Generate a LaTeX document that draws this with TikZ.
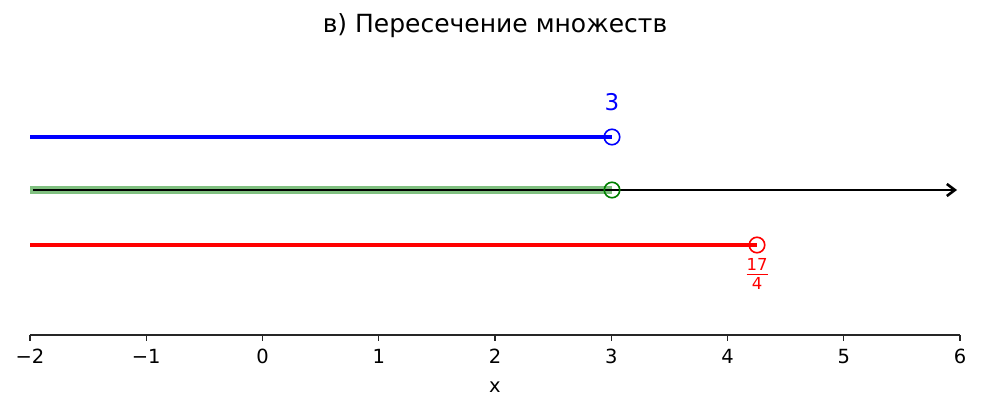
\documentclass[tikz,border=0pt]{standalone}
\usepackage{fontspec}
\setmainfont{DejaVu Sans}
\usetikzlibrary{arrows.meta}
\definecolor{mgreen}{RGB}{0,128,0}
\definecolor{bandgreen}{RGB}{128,192,128}
\tikzset{
  ticklab/.style={font=\fontsize{19.5}{19.5}\selectfont, inner sep=0pt, anchor=north},
  openpt/.style={circle, draw, line width=1.6pt, minimum size=15.5pt, inner sep=0pt},
  setline/.style={line width=3.5pt},
}
\begin{document}
\begin{tikzpicture}[x=1pt,y=-1pt]
\path[use as bounding box] (0,0) rectangle (982,413);
% title
\node[font=\fontsize{25}{25}\selectfont, inner sep=0pt] (title) at (495,26) {в) Пересечение множеств};
% coordinates
\coordinate (bstart) at (30,137);
\coordinate (gstart) at (30,190);
\coordinate (kstart) at (33,190);
\coordinate (kend) at (957,190);
\coordinate (rstart) at (30,245);
% green band
\draw[bandgreen, line width=8pt] (gstart) -- (612,190);
% black arrow
\draw[line width=2.6pt, -{Straight Barb[length=8pt,width=12pt,line width=2.6pt]}] (kstart) -- (kend);
% blue line
\draw[blue, setline] (bstart) -- (612,137);
\node[openpt, draw=blue] (bc) at (612,137) {};
\node[blue, font=\fontsize{23}{23}\selectfont, inner sep=0pt] (b3) at (612,102) {3};
% green circle
\node[openpt, draw=mgreen] (gc) at (612,190) {};
% red line
\draw[red, setline] (rstart) -- (757,245);
\node[openpt, draw=red] (rc) at (757,245) {};
\node[red, font=\fontsize{16.5}{16.5}\selectfont, inner sep=0pt] (rf) at (757,274) {$\frac{\hbox{17}\vphantom{\rule[-3pt]{0pt}{1pt}}}{\hbox{\rule{0pt}{15pt}4}}$};
% axis
\draw[line width=1.3pt, color=black!85] (30,335) coordinate (ax0) -- (960,335) coordinate (ax1);
\foreach \v [count=\i from 0] in {−2,−1,0,1,2,3,4,5,6} {
  \pgfmathsetmacro{\xx}{30+116.25*\i}
  \draw[line width=1.3pt, color=black!85] (\xx,335) -- (\xx,341);
  \node[ticklab] (t\i) at (\xx,349) {\v};
}
\node[font=\fontsize{19.5}{19.5}\selectfont, inner sep=0pt] (xlab) at (495,387) {x};
\end{tikzpicture}
\end{document}
